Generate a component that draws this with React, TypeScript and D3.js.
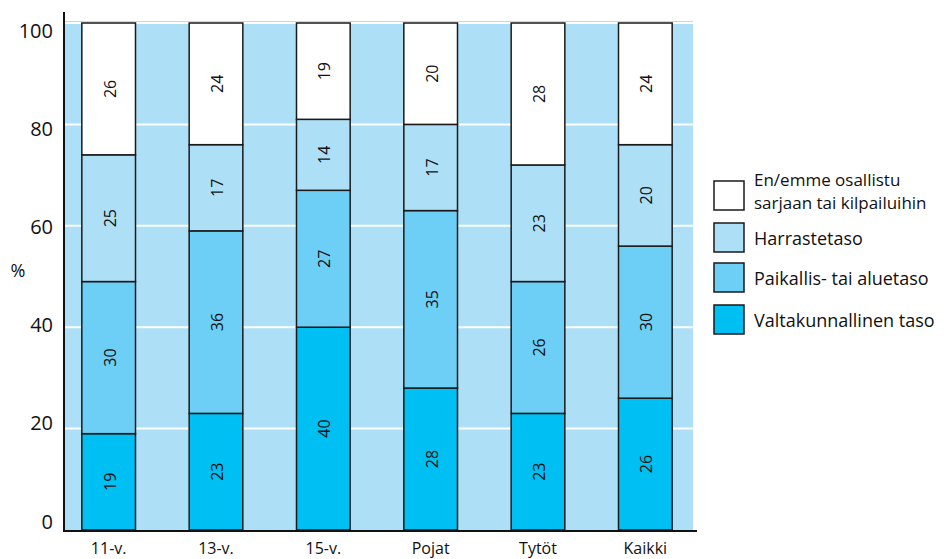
import React from "react";
import * as d3 from "d3";

const categories = ["11-v.", "13-v.", "15-v.", "Pojat", "Tytöt", "Kaikki"];
const valtakunnallinen = [19, 23, 40, 28, 23, 26];
const paikallis = [30, 36, 27, 35, 26, 30];
const harraste = [25, 17, 14, 17, 23, 20];
const eiOsallistu = [26, 24, 19, 20, 28, 24];
const yTicks = [0, 20, 40, 60, 80, 100];
const seriesColors = ["#00bff3", "#6dcff6", "#ade0f7", "#ffffff"];

const W = 944;
const H = 559;
const FONT = "'Open Sans', 'Noto Sans', sans-serif";

export default function App() {
  const keys = ["v", "p", "h", "e"];
  const rows = categories.map((c, i) => ({
    cat: c,
    v: valtakunnallinen[i],
    p: paikallis[i],
    h: harraste[i],
    e: eiOsallistu[i],
  }));
  const stacked = d3.stack<any>().keys(keys)(rows);

  const x = d3.scaleBand<string>().domain(categories).range([55, 699]).paddingInner(0.5).paddingOuter(0.25);
  const y = d3.scaleLinear().domain([0, 100]).range([530, 23]);
  const yLab = d3.scaleLinear().domain([0, 100]).range([521, 30]);

  const plotL = 65;
  const plotR = 693;

  const legendItems = [3, 2, 1, 0];
  const legendLabels: Record<number, string[]> = {
    3: ["En/emme osallistu", "sarjaan tai kilpailuihin"],
    2: ["Harrastetaso"],
    1: ["Paikallis- tai aluetaso"],
    0: ["Valtakunnallinen taso"],
  };
  const legendBoxY = [181, 223, 263, 305];

  return (
    <svg width={W} height={H} style={{ position: "absolute", left: 0, top: 0, background: "#fff" }} fontFamily={FONT}>
      <rect x={plotL} y={y(100) - 2} width={plotR - plotL} height={y(0) - y(100) + 2} fill="#ade0f7" />
      {yTicks.filter((t) => t > 0).map((t) => (
        <line key={t} x1={plotL} x2={plotR} y1={y(t)} y2={y(t)} stroke="#fff" strokeWidth={2} />
      ))}
      {stacked.map((s, si) =>
        s.map((d, i) => {
          const cat = categories[i];
          const x0 = x(cat)!;
          const y0 = y(d[1]);
          const h = y(d[0]) - y(d[1]);
          const val = d[1] - d[0];
          const cx = x0 + x.bandwidth() / 2;
          const cy = y0 + h / 2;
          return (
            <g key={`${si}-${i}`}>
              <rect x={x0} y={y0} width={x.bandwidth()} height={h} fill={seriesColors[si]} stroke="#1a1a1a" strokeWidth={1.5} />
              <text
                transform={`translate(${cx + 1},${cy}) rotate(-90)`}
                textAnchor="middle"
                dominantBaseline="central"
                fontSize={16}
                fill="#111"
              >
                {val}
              </text>
            </g>
          );
        })
      )}
      <line x1={64} x2={64} y1={12} y2={531} stroke="#111" strokeWidth={2} />
      <line x1={63} x2={697} y1={531} y2={531} stroke="#111" strokeWidth={2} />
      {yTicks.map((t) => (
        <text key={t} x={53} y={yLab(t)} textAnchor="end" dominantBaseline="central" fontSize={20} fill="#111">
          {t}
        </text>
      ))}
      <text x={18} y={270} textAnchor="middle" dominantBaseline="central" fontSize={18} fill="#111">
        %
      </text>
      {categories.map((c) => (
        <text key={c} x={x(c)! + x.bandwidth() / 2} y={554} textAnchor="middle" fontSize={16} fill="#111">
          {c}
        </text>
      ))}
      {legendItems.map((si, k) => {
        const by = legendBoxY[k];
        const lines = legendLabels[si];
        return (
          <g key={si}>
            <rect x={714} y={by} width={30} height={29} fill={seriesColors[si]} stroke="#1a1a1a" strokeWidth={1.5} />
            {lines.length === 1 ? (
              <text x={754} y={by + 15} dominantBaseline="central" fontSize={18} fill="#111">
                {lines[0]}
              </text>
            ) : (
              <g>
                <text x={754} y={by + 5} fontSize={17} fill="#111">{lines[0]}</text>
                <text x={754} y={by + 28} fontSize={17} fill="#111">{lines[1]}</text>
              </g>
            )}
          </g>
        );
      })}
    </svg>
  );
}
